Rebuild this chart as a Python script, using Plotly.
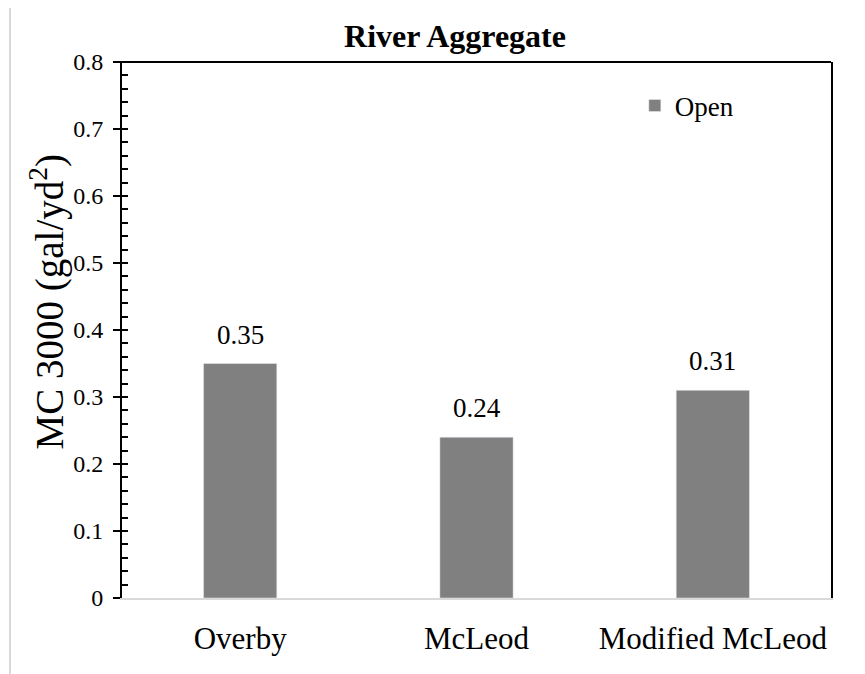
import plotly.graph_objects as go

# data
categories = ["Overby", "McLeod", "Modified McLeod"]
open_values = [0.35, 0.24, 0.31]
value_labels = ["0.35", "0.24", "0.31"]
y_ticks = [0, 0.1, 0.2, 0.3, 0.4, 0.5, 0.6, 0.7, 0.8]
y_tick_text = ["0", "0.1", "0.2", "0.3", "0.4", "0.5", "0.6", "0.7", "0.8"]

FONT = "Liberation Serif, Times New Roman, serif"
BAR_COLOR = "#808080"
FRAME_GRAY = "#d9d9d9"

fig = go.Figure()

fig.add_trace(go.Bar(
    x=categories, y=open_values,
    name="Open",
    marker_color=BAR_COLOR,
    width=0.31,
    hovertemplate="%{x}: %{y}<extra></extra>",
))

# invisible helper trace so the inner tick axis is drawn
fig.add_trace(go.Scatter(x=[categories[0]], y=[None], yaxis="y2",
                         showlegend=False, hoverinfo="skip"))

# value labels above the bars
labels = [
    dict(x=c, y=v, text=t, xref="x", yref="y", yanchor="bottom",
         yshift=12, showarrow=False,
         font=dict(family=FONT, size=27, color="black"))
    for c, v, t in zip(categories, open_values, value_labels)
]

labels.append(dict(
    text="MC 3000 (gal/yd<sup>2</sup>)",
    xref="paper", yref="paper", x=-0.105, y=0.5525,
    xanchor="center", yanchor="middle", textangle=-90,
    showarrow=False, font=dict(family=FONT, size=39, color="black"),
))

# page body has an 8px margin, so the figure is 8px smaller than the window
fig.update_layout(
    width=857, height=666,
    margin=dict(l=114, r=34, t=54, b=76),
    paper_bgcolor="white",
    plot_bgcolor="white",
    font=dict(family=FONT, color="black"),
    title=dict(
        text="<b>River Aggregate</b>",
        font=dict(family=FONT, size=32, color="black"),
        xref="paper", x=0.4697, xanchor="center",
        yref="container", y=1 - 28 / 666, yanchor="middle",
    ),
    showlegend=True,
    legend=dict(
        x=0.7233, y=0.918, xanchor="left", yanchor="middle",
        font=dict(family=FONT, size=27, color="black"),
        bgcolor="rgba(0,0,0,0)",
    ),
    xaxis=dict(
        showline=True, linecolor=FRAME_GRAY, linewidth=2,
        ticks="", showgrid=False,
        tickfont=dict(family=FONT, size=31, color="black"),
        ticklabelstandoff=12,
    ),
    yaxis=dict(
        range=[0, 0.8],
        tickvals=y_ticks, ticktext=y_tick_text,
        showline=True, linecolor="black", linewidth=2, mirror=True,
        ticks="outside", ticklen=7, tickwidth=2, tickcolor="black",
        showgrid=False, zeroline=False,
        tickfont=dict(family=FONT, size=24, color="black"),
        ticklabelstandoff=5,
    ),
    yaxis2=dict(
        range=[0, 0.8], overlaying="y", side="left",
        showline=False, showgrid=False, zeroline=False,
        showticklabels=False,
        tickvals=y_ticks,
        ticks="inside", ticklen=6, tickwidth=2, tickcolor="black",
        minor=dict(ticks="inside", dtick=0.02, ticklen=6, tickwidth=2,
                   tickcolor="black"),
    ),
    annotations=labels,
    shapes=[
        # top frame line of the plot area
        dict(type="line", xref="paper", yref="paper", x0=-0.01, x1=1, y0=1, y1=1,
             line=dict(color="black", width=2)),
        # outer chart border
        dict(type="rect", xref="paper", yref="paper", x0=-0.158, x1=1.2,
             y0=-0.4, y1=1.1026, line=dict(color=FRAME_GRAY, width=2),
             layer="below"),
    ],
)

fig.write_html("out.html")
